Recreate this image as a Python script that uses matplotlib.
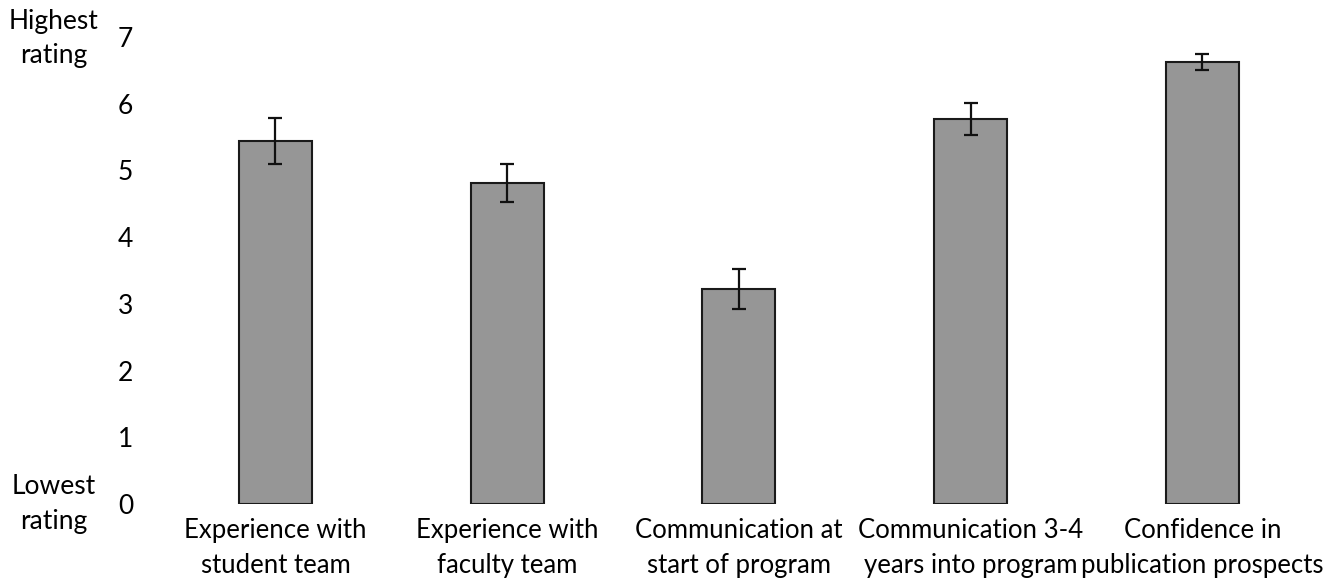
import matplotlib
matplotlib.use("Agg")
import matplotlib.pyplot as plt

categories = ["Experience with\nstudent team", "Experience with\nfaculty team",
              "Communication at\nstart of program", "Communication 3-4\nyears into program",
              "Confidence in\npublication prospects"]
means = [5.44, 4.81, 3.22, 5.77, 6.62]
errors = [0.34, 0.28, 0.30, 0.24, 0.12]
yticks = [0, 1, 2, 3, 4, 5, 6, 7]

plt.rcParams['font.family'] = ['Lato', 'DejaVu Sans']

fig = plt.figure(figsize=(13.41, 5.79), dpi=100)
ax = fig.add_axes([0.119, 0.1295, 0.864, 0.8065])
x = range(len(categories))
ax.bar(x, means, width=0.315, color="#969696", edgecolor="#1a1a1a", linewidth=1.5,
       yerr=errors, capsize=5, error_kw=dict(elinewidth=1.6, capthick=1.6, ecolor="#111111"))
ax.set_xlim(-0.5, 4.5)
ax.set_ylim(0, 7)
ax.set_yticks(yticks)
ax.set_yticklabels([str(t) for t in yticks], fontsize=19)
ax.set_xticks(list(x))
ax.set_xticklabels(categories, fontsize=18.5, linespacing=1.5)
for s in ax.spines.values():
    s.set_visible(False)
ax.tick_params(axis='y', length=0, pad=19)
ax.tick_params(axis='x', length=0, pad=10)

fig.text(54/1341, 1 - 39/579, "Highest\nrating", ha="center", va="center", fontsize=19, linespacing=1.45)
fig.text(54/1341, 1 - 504/579, "Lowest\nrating", ha="center", va="center", fontsize=19, linespacing=1.45)

fig.savefig("out.png", dpi=100, facecolor="white")
